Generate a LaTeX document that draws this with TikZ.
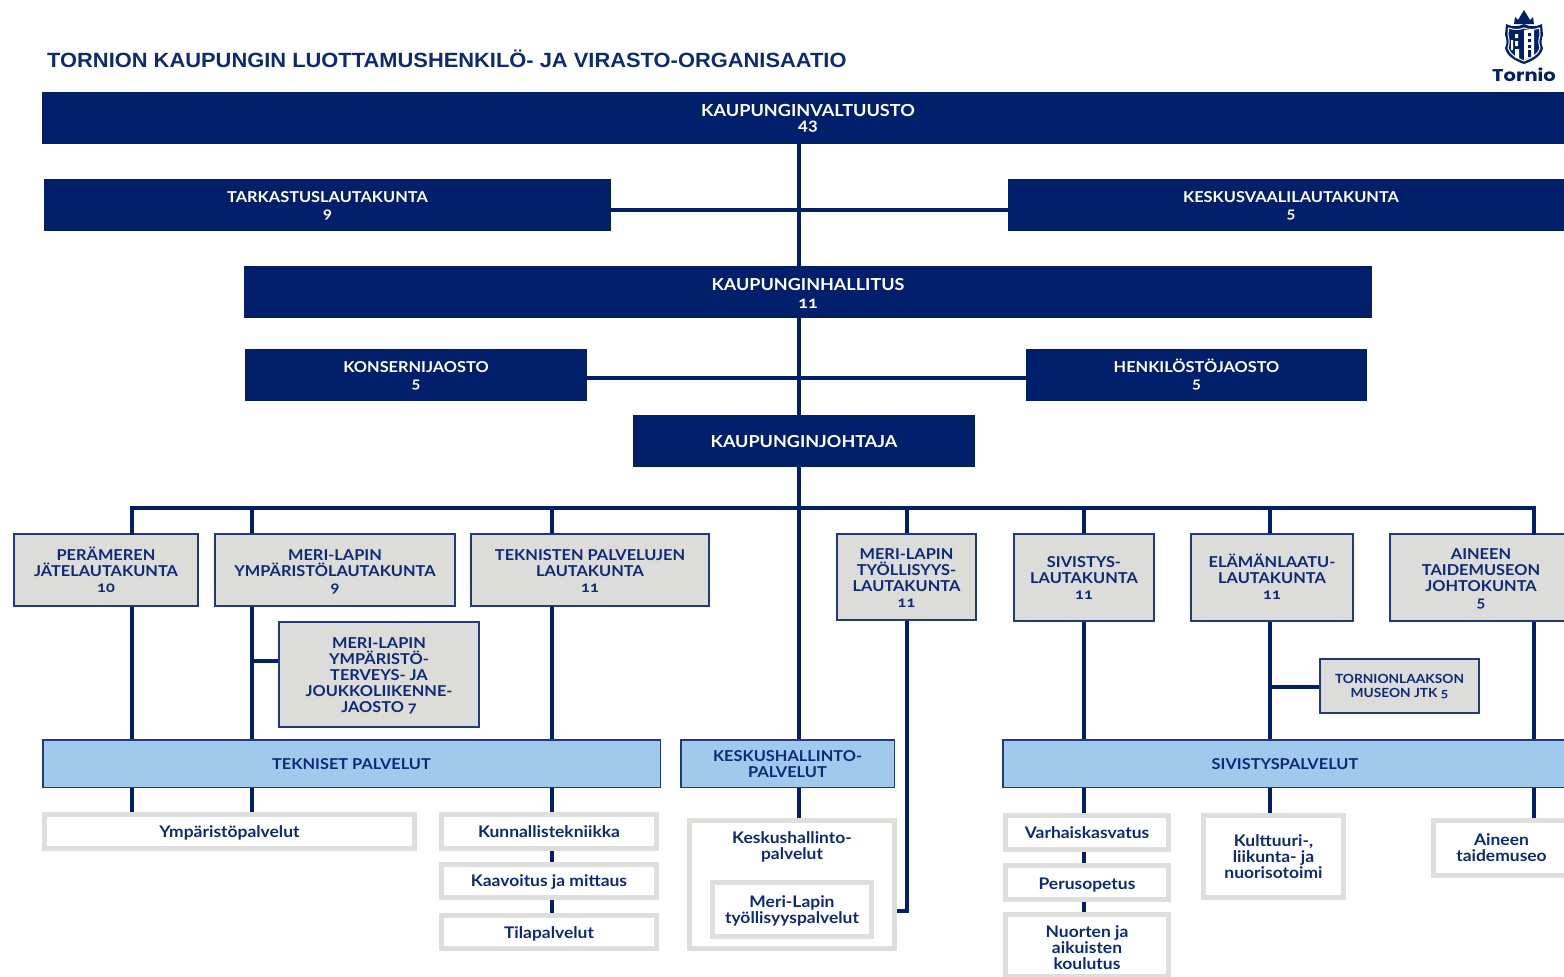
\documentclass[tikz,border=0pt]{standalone}
\usepackage{fontspec}
\setmainfont{Lato}[Numbers=OldStyle,BoldFont={Lato Bold},FakeStretch=1.09]
\newfontfamily\titlefont{Liberation Sans}[FakeStretch=1.062]
\newfontfamily\logofont{Poppins}[FakeStretch=1.15]
\definecolor{navy}{HTML}{011F6B}
\definecolor{txt}{HTML}{0B2A78}
\definecolor{edge}{HTML}{1F3A82}
\definecolor{pale}{HTML}{DCDCD8}
\definecolor{sky}{HTML}{9FCAEC}
\definecolor{rim}{HTML}{DEDEDA}
\tikzset{
  box/.style n args={5}{minimum width={#3-#1-#5},minimum height={#4-#2-#5},inner sep=0pt,
     at={({(#1+#3)/2},{(#2+#4)/2})}},
  tb/.style={text height=#1pt,text depth=0pt},
  base/.style={align=center,font=\fontsize{15}{16}\selectfont\bfseries},
  dark/.style={base,fill=navy,text=white,draw=none},
  grey/.style={base,fill=pale,draw=edge,line width=1.8pt,text=txt},
  blue/.style={base,fill=sky,draw=edge,line width=1.5pt,text=txt},
  small/.style={align=center,font=\fontsize{16}{16}\selectfont\bfseries,text=txt},
  whitebox/.style={small,fill=white,draw=rim,line width=5pt},
  link/.style={draw=navy,line width=4pt},
}
\begin{document}
\begin{tikzpicture}[x=1pt,y=-1pt]
\useasboundingbox (0,0) rectangle (1564,977);
\clip (0,0) rectangle (1564,977);
% title
\node[anchor=west,inner sep=0pt,text=txt] (title) at (47,59) {\titlefont\bfseries\fontsize{20.6}{24}\selectfont TORNION KAUPUNGIN LUOTTAMUSHENKILÖ- JA VIRASTO-ORGANISAATIO};
% logo
\fill[navy] (1514,24) -- (1515,17) -- (1518,20) -- (1521,15) -- (1524,10) -- (1527,15) -- (1530,20) -- (1533,17) -- (1534,24) -- cycle;
\fill[navy] (1506,24) .. controls (1512,27) and (1518,27) .. (1524,24) .. controls (1530,27) and (1536,27) .. (1542,24) -- (1543,35) .. controls (1541,40) and (1541,44) .. (1543,48) .. controls (1541,57) and (1532,61) .. (1524,64) .. controls (1516,61) and (1507,57) .. (1505,48) .. controls (1507,44) and (1507,40) .. (1505,35) -- cycle;
\draw[white,line width=1pt] (1508.5,28) .. controls (1514,30) and (1519,30) .. (1524,28) .. controls (1529,30) and (1534,30) .. (1539.5,28) -- (1540,35) .. controls (1538.5,40) and (1538.5,44) .. (1540,48) .. controls (1538,55) and (1531,58) .. (1524,61) .. controls (1517,58) and (1510,55) .. (1508,48) .. controls (1509.5,44) and (1509.5,40) .. (1508,35) -- cycle;
\fill[white] (1524,30) -- (1534,30) -- (1534,56) -- (1524,60) -- cycle;
\fill[navy] (1528,33) rectangle (1531,36) (1528,39) rectangle (1531,42) (1528,45) rectangle (1531,48) (1528,50) rectangle (1531,57);
\fill[white] (1515,34) rectangle (1518,38) (1515,41) rectangle (1518,46) (1515,49) rectangle (1519,58) (1511,40) rectangle (1513,50);
\node[inner sep=0pt,text=navy] (logotext) at (1524,75) {\logofont\bfseries\fontsize{17}{18}\selectfont Tornio};

% top boxes
\node[dark,box={42}{92}{1574}{144}{0},tb=24,font=\fontsize{16.6}{14}\selectfont\bfseries] (valt) {KAUPUNGINVALTUUSTO\\43};
\node[dark,box={44}{179}{611}{231}{0},tb=27] (tark) {TARKASTUSLAUTAKUNTA\\9};
\node[dark,box={1008}{179}{1574}{231}{0},tb=27] (vaali) {KESKUSVAALILAUTAKUNTA\\5};
\node[dark,box={244}{266}{1372}{318}{0},tb=32,font=\fontsize{16.5}{18}\selectfont\bfseries] (hall) {KAUPUNGINHALLITUS\\11};
\node[dark,box={245}{349}{587}{401}{0},tb=27.5] (kons) {KONSERNIJAOSTO\\5};
\node[dark,box={1026}{349}{1367}{401}{0},tb=27.5] (henk) {HENKILÖSTÖJAOSTO\\5};
\node[dark,box={633}{415}{975}{467}{0},tb=12,font=\fontsize{16.5}{18}\selectfont\bfseries] (joht) {KAUPUNGINJOHTAJA};

% boards
\node[grey,box={13}{533}{199}{607}{1.8},tb=45] (per) {PERÄMEREN\\JÄTELAUTAKUNTA\\10};
\node[grey,box={214}{533}{456}{607}{1.8},tb=45] (ymp) {MERI-LAPIN\\YMPÄRISTÖLAUTAKUNTA\\9};
\node[grey,box={470}{533}{710}{607}{1.8},tb=45] (tek) {TEKNISTEN PALVELUJEN\\LAUTAKUNTA\\11};
\node[grey,box={278}{621}{480}{728}{1.8},tb=76] (jaos) {MERI-LAPIN\\YMPÄRISTÖ-\\TERVEYS- JA\\JOUKKOLIIKENNE-\\JAOSTO 7};
\node[grey,box={836}{533}{977}{621}{1.8},tb=60] (tyo) {MERI-LAPIN\\TYÖLLISYYS-\\LAUTAKUNTA\\11};
\node[grey,box={1013}{533}{1155}{622}{1.8},tb=44] (siv) {SIVISTYS-\\LAUTAKUNTA\\11};
\node[grey,box={1190}{533}{1354}{622}{1.8},tb=44] (ela) {ELÄMÄNLAATU-\\LAUTAKUNTA\\11};
\node[grey,box={1389}{533}{1573}{622}{1.8},tb=60] (ain) {AINEEN\\TAIDEMUSEON\\JOHTOKUNTA\\5};
\node[grey,box={1319}{658}{1480}{714}{1.8},tb=23,font=\fontsize{12.6}{14}\selectfont\bfseries] (mus) {TORNIONLAAKSON\\MUSEON JTK 5};

% services
\node[blue,box={42}{739}{661}{788}{1.5},tb=11] (tekp) {TEKNISET PALVELUT};
\node[blue,box={680}{739}{895}{788}{1.5},tb=28] (kesp) {KESKUSHALLINTO-\\PALVELUT};
\node[blue,box={1002}{739}{1568}{788}{1.5},tb=11] (sivp) {SIVISTYSPALVELUT};

% units
\node[whitebox,box={42}{812}{417}{851}{5},tb=11] (u1) {Ympäristöpalvelut};
\node[whitebox,box={439}{812}{659}{851}{5},tb=11] (u2) {Kunnallistekniikka};
\node[whitebox,box={439}{862}{659}{900}{5},tb=11] (u3) {Kaavoitus ja mittaus};
\node[whitebox,box={439}{913}{659}{951}{5},tb=13] (u4) {Tilapalvelut};
\node[whitebox,box={687}{818}{897}{951}{5}] (u5) {};
\node[small,inner sep=0pt,tb=28] (u5t) at (792,845) {Keskushallinto-\\palvelut};
\node[whitebox,box={710}{880}{874}{939}{5},tb=28] (u6) {Meri-Lapin\\työllisyyspalvelut};
\node[whitebox,box={1003}{813}{1171}{852}{5},tb=12] (u7) {Varhaiskasvatus};
\node[whitebox,box={1003}{863}{1171}{902}{5},tb=13] (u8) {Perusopetus};
\node[whitebox,box={1003}{912}{1171}{979}{5},tb=47.6] (u9) {Nuorten ja\\aikuisten\\koulutus};
\node[whitebox,box={1201}{813}{1346}{900}{5},tb=44] (u10) {Kulttuuri-,\\liikunta- ja\\nuorisotoimi};
\node[whitebox,box={1431}{818}{1572}{878}{5},tb=27] (u11) {Aineen\\taidemuseo};

% coordinates of the trunk and the bus
\coordinate (tr) at (799,300);
\coordinate (bl) at (132,508);
\coordinate (br) at (1534,508);
\coordinate (bm) at (799,508);
\coordinate (ymx) at (252,508);
\coordinate (tkx) at (552,508);
\coordinate (tyx) at (907,508);
\coordinate (svx) at (1084,508);
\coordinate (elx) at (1270,508);
\coordinate (jy) at (0,661);
\coordinate (my) at (0,687);
\coordinate (ty) at (0,911);

% connectors
\draw[link] (valt.south -| tr) -- (hall.north -| tr);
\draw[link] (hall.south -| tr) -- (joht.north -| tr);
\draw[link] (joht.south -| tr) -- (kesp.north -| tr);
\draw[link] (tark.east |- 0,210) -- (vaali.west |- 0,210);
\draw[link] (kons.east |- 0,378) -- (henk.west |- 0,378);
\draw[link,line cap=rect,line join=miter] (per.north -| bl) -- (bl) -- (br) -- (ain.north -| br);
\draw[link] (ymx) -- (ymp.north -| ymx);
\draw[link] (tkx) -- (tek.north -| tkx);
\draw[link] (tyx) -- (tyo.north -| tyx);
\draw[link] (svx) -- (siv.north -| svx);
\draw[link] (elx) -- (ela.north -| elx);
\draw[link] (per.south -| bl) -- (tekp.north -| bl);
\draw[link] (ymp.south -| ymx) -- (tekp.north -| ymx);
\draw[link] (tek.south -| tkx) -- (tekp.north -| tkx);
\draw[link] (siv.south -| svx) -- (sivp.north -| svx);
\draw[link] (ela.south -| elx) -- (sivp.north -| elx);
\draw[link] (ain.south -| br) -- (sivp.north -| br);
\draw[link] (jaos.west |- jy) -- (jy -| ymx);
\draw[link] (mus.west |- my) -- (my -| elx);
\draw[link,line join=miter] (tyo.south -| tyx) -- (ty -| tyx) -- (u5.east |- ty);
\draw[link] (tekp.south -| bl) -- (u1.north -| bl);
\draw[link] (tekp.south -| ymx) -- (u1.north -| ymx);
\draw[link] (tekp.south -| tkx) -- (u2.north -| tkx);
\draw[link] (u2.south -| tkx) -- (u3.north -| tkx);
\draw[link] (u3.south -| tkx) -- (u4.north -| tkx);
\draw[link] (kesp.south -| tr) -- (u5.north -| tr);
\draw[link] (sivp.south -| svx) -- (u7.north -| svx);
\draw[link] (u7.south -| svx) -- (u8.north -| svx);
\draw[link] (u8.south -| svx) -- (u9.north -| svx);
\draw[link] (sivp.south -| elx) -- (u10.north -| elx);
\draw[link] (sivp.south -| br) -- (u11.north -| br);
\end{tikzpicture}
\end{document}
